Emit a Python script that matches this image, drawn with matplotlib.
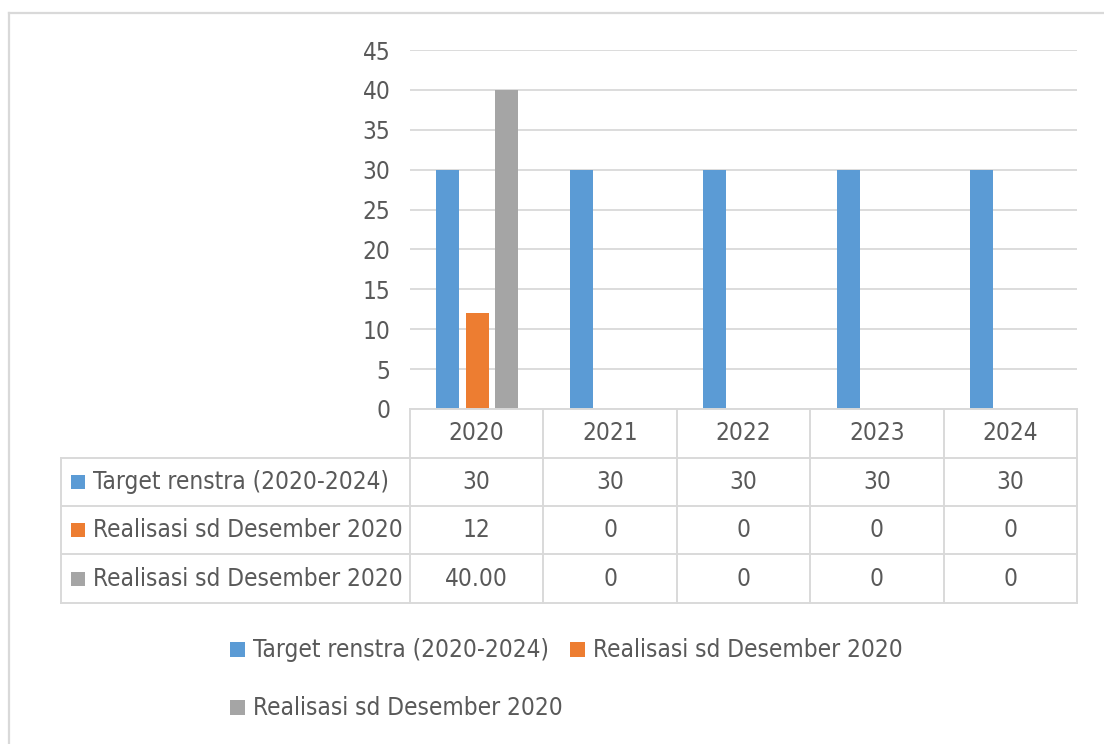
import matplotlib
matplotlib.use("Agg")
import matplotlib.pyplot as plt
from matplotlib import font_manager as fm
from matplotlib.patches import Rectangle
from matplotlib.lines import Line2D

# ---- data ----
years = ["2020", "2021", "2022", "2023", "2024"]
series_names = [
    "Target renstra (2020-2024)",
    "Realisasi sd Desember 2020",
    "Realisasi sd Desember 2020",
]
target = [30, 30, 30, 30, 30]
realisasi = [12, 0, 0, 0, 0]
realisasi_persen = [40, 0, 0, 0, 0]
y_ticks = [0, 5, 10, 15, 20, 25, 30, 35, 40, 45]

colors = ["#5B9BD5", "#ED7D31", "#A5A5A5"]
TEXT = "#595959"
GRID = "#D9D9D9"

# ---- font: prefer a narrow sans ----
available = {f.name for f in fm.fontManager.ttflist}
styles = {f.name + "|" + str(f.stretch) for f in fm.fontManager.ttflist}
if "Liberation Sans Narrow" in available:
    FONT = dict(family="Liberation Sans Narrow")
    EM = 28.2
elif any(s.startswith("DejaVu Sans|") and s.split("|")[1] in ("condensed", "semi-condensed", "75", "87")
         for s in styles):
    FONT = dict(family="DejaVu Sans", stretch="condensed")
    EM = 24.3
else:
    FONT = dict(family="DejaVu Sans")
    EM = 22
FS = EM * 72 / 100  # points at dpi 100

W, H = 1104, 744
fig = plt.figure(figsize=(W / 100, H / 100), dpi=100)


def fx(px):
    return px / W


def fy(py):
    return 1 - py / H


# outer chart border
fig.add_artist(Line2D([fx(9), fx(W + 5)], [fy(13), fy(13)], transform=fig.transFigure,
                      color=GRID, lw=1.6))
fig.add_artist(Line2D([fx(9), fx(9)], [fy(13), fy(H + 5)], transform=fig.transFigure,
                      color=GRID, lw=1.6))

# ---- plot area ----
L, R, T, B = 410, 1077, 50, 409
ax = fig.add_axes([fx(L), fy(B), (R - L) / W, (B - T) / H])
ax.set_xlim(-0.5, len(years) - 0.5)
ax.set_ylim(0, 45)
for s in ax.spines.values():
    s.set_visible(False)
ax.set_xticks([])
ax.set_yticks(y_ticks)
ax.set_yticklabels([str(v) for v in y_ticks], color=TEXT, fontsize=FS, **FONT)
ax.tick_params(axis="y", length=0, pad=14)
ax.yaxis.grid(True, color=GRID, lw=1.3)
ax.set_axisbelow(True)

bar_w = 0.172
offset = 0.221
xs = list(range(len(years)))
all_series = [target, realisasi, realisasi_persen]
for k, (vals, c) in enumerate(zip(all_series, colors)):
    ax.bar([x + (k - 1) * offset + 0.005 for x in xs], vals, width=bar_w, color=c,
           edgecolor="none", zorder=3)

# ---- data table ----
col_edges = [L + i * (R - L) / len(years) for i in range(len(years) + 1)]
row_edges = [409, 458, 506, 554, 603]
tab_left = 61


def hline(y, x0, x1):
    fig.add_artist(Line2D([fx(x0), fx(x1)], [fy(y), fy(y)], transform=fig.transFigure,
                          color=GRID, lw=1.4))


def vline(x, y0, y1):
    fig.add_artist(Line2D([fx(x), fx(x)], [fy(y0), fy(y1)], transform=fig.transFigure,
                          color=GRID, lw=1.4))


hline(row_edges[0], L, R)
for y in row_edges[1:]:
    hline(y, tab_left, R)
for x in col_edges:
    vline(x, row_edges[0], row_edges[-1])
vline(tab_left, row_edges[1], row_edges[-1])

# header: years
for i, yr in enumerate(years):
    cx = (col_edges[i] + col_edges[i + 1]) / 2
    fig.text(fx(cx), fy((row_edges[0] + row_edges[1]) / 2), yr, ha="center", va="center",
             color=TEXT, fontsize=FS, **FONT)


def fmt_value(k, v):
    if k == 2 and v != 0:
        return f"{v:.2f}"
    return f"{v:g}"


sq = 14
for k, (name, vals, c) in enumerate(zip(series_names, all_series, colors)):
    cy = (row_edges[k + 1] + row_edges[k + 2]) / 2
    fig.add_artist(Rectangle((fx(71), fy(cy + sq / 2)), sq / W, sq / H,
                             transform=fig.transFigure, color=c, lw=0))
    fig.text(fx(93), fy(cy), name, ha="left", va="center", color=TEXT, fontsize=FS, **FONT)
    for i, v in enumerate(vals):
        cx = (col_edges[i] + col_edges[i + 1]) / 2
        fig.text(fx(cx), fy(cy), fmt_value(k, v), ha="center", va="center",
                 color=TEXT, fontsize=FS, **FONT)

# ---- legend ----
legend_items = [(230, 650), (570, 650), (230, 708)]
for (lx, ly), name, c in zip(legend_items, series_names, colors):
    fig.add_artist(Rectangle((fx(lx), fy(ly + 7)), 15 / W, 15 / H,
                             transform=fig.transFigure, color=c, lw=0))
    fig.text(fx(lx + 23), fy(ly), name, ha="left", va="center", color=TEXT,
             fontsize=FS, **FONT)

fig.savefig("out.png", dpi=100, facecolor="white")
